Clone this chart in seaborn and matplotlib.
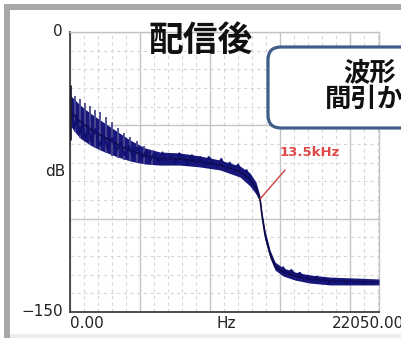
import pandas as pd
import matplotlib.pyplot as plt
import seaborn as sns
from matplotlib.patches import FancyBboxPatch, Rectangle
from matplotlib.ticker import MultipleLocator

# spectrum envelope (Hz, dB)
freq_hz = [0, 357, 714, 1427, 2141, 3211, 4282, 5352, 6422, 7850, 9277, 10704,
           12131, 12845, 13273, 13558, 13701, 13915, 14272, 14629, 15199, 16056,
           17126, 18553, 20337, 22050]
upper_db = [-33.8, -36.4, -39.1, -43.4, -47.1, -52.5, -57.9, -62.1, -64.3, -64.8,
            -66.4, -68.6, -71.8, -75.5, -80.4, -87.9, -96.4, -106.1, -116.8,
            -123.2, -126.4, -128.6, -130.2, -131.3, -131.8, -132.3]
lower_db = [-49.8, -53.6, -56.8, -60.5, -63.2, -66.4, -69.1, -70.7, -71.3, -71.3,
            -72.3, -73.9, -77.7, -82.5, -86.8, -91.1, -100.7, -111.4, -121.1,
            -127.5, -130.7, -132.9, -134.5, -135.5, -135.5, -135.5]

# jagged trace inside the band (Hz, dB)
trace_hz = [100, 300, 500, 700, 900, 1100, 1300, 1500, 1800, 2100, 2400, 2700, 3000,
            3300, 3600, 3900, 4200, 4500, 4800, 5100, 5400, 5700, 6000, 6300, 6600,
            6900, 7200, 7500, 7800, 8100, 8400, 8700, 9000, 9300, 9600, 9900, 10200,
            10500, 10800, 11100, 11400, 11700, 12000, 12300, 12600, 12900]
trace_db = [-40, -52, -44, -55, -47, -58, -50, -59, -52, -61, -55, -63, -57, -64, -59,
            -66, -61, -67, -62, -68, -64, -69, -65, -70, -64.5, -69, -66, -70.5, -65,
            -68, -71, -66, -70, -67, -71.5, -67, -69.5, -72, -68, -73, -70, -74.5,
            -71, -76, -74, -79]
tail_hz = [15200, 15500, 15800, 16100, 16400, 16700, 17000, 17300, 17600, 17900,
           18200, 18500, 18800, 19100, 19400, 19700, 20000, 20300, 20600, 20900,
           21200, 21500, 21800, 22050]
tail_db = [-126, -129.5, -127.5, -130.5, -129, -132, -130.5, -133, -131, -133.5,
           -132, -134.5, -132.5, -134, -133, -135, -133, -134.5, -133.5, -135,
           -133.5, -134.8, -133.8, -134.5]

# harmonic spikes at the low end
spike_hz = [0, 357, 714, 1070, 1427, 1784, 2141, 2569, 2997, 3425, 3853, 4282,
            4781, 5281, 5852]
spike_top = [-28.4, -34.3, -35.9, -38.0, -39.6, -41.8, -42.9, -45.5, -48.2, -51.4,
             -54.1, -56.3, -58.4, -61.1, -63.2]
spike_base = [-57.9, -53.6, -56.8, -58.9, -60.5, -62.1, -63.2, -64.8, -66.4,
              -67.5, -68.6, -69.1, -70.2, -70.7, -71.3]

df = pd.DataFrame({"freq": freq_hz, "upper": upper_db, "lower": lower_db})
df["mid"] = (df["upper"] + df["lower"]) / 2
trace = pd.DataFrame({"freq": trace_hz + tail_hz, "db": trace_db + tail_db,
                      "part": ["head"] * len(trace_hz) + ["tail"] * len(tail_hz)})

sns.set_style("white")
plt.rcParams["font.family"] = ["DejaVu Sans"]
cjk = ["Noto Sans CJK JP", "DejaVu Sans"]

fig = plt.figure(figsize=(4.01, 3.38), dpi=100)
ax = fig.add_axes([70 / 401, 26 / 338, 309 / 401, 280 / 338])

navy = "#17177c"
ax.fill_between(df["freq"], df["lower"], df["upper"], color=navy, lw=0, zorder=3)
sns.lineplot(data=df, x="freq", y="mid", color="#0a0a40", lw=1.1, ax=ax, zorder=4)
sns.lineplot(data=trace, x="freq", y="db", units="part", estimator=None,
             color="#101070", lw=1.4, ax=ax, zorder=4)
ax.vlines(spike_hz, spike_base, spike_top, color="#4a4a90", lw=1.3, zorder=3)
ax.vlines(spike_hz[0], spike_base[0], spike_top[0], color="#202030", lw=2, zorder=4)

ax.set_xlim(0, 22050)
ax.set_ylim(-150, 0)
ax.xaxis.set_major_locator(MultipleLocator(5000))
ax.xaxis.set_minor_locator(MultipleLocator(1000))
ax.yaxis.set_major_locator(MultipleLocator(50))
ax.yaxis.set_minor_locator(MultipleLocator(10))
ax.grid(which="major", color="#c4c4c4", lw=1)
ax.grid(which="minor", color="#d6d6d6", lw=0.8, ls=(0, (3, 3)))
ax.tick_params(which="both", length=0, labelleft=False, labelbottom=False)
ax.set_xlabel("")
ax.set_ylabel("")
for s in ["left", "bottom"]:
    ax.spines[s].set_color("#404040")
    ax.spines[s].set_linewidth(1.3)
for s in ["top", "right"]:
    ax.spines[s].set_color("#c4c4c4")
    ax.spines[s].set_linewidth(1)

# annotation line for the cutoff
ax.plot([13558, 15350], [-89.5, -73.9], color="#d04040", lw=1, zorder=5)

inch = fig.dpi_scale_trans


def px(x, y):
    return x / 100, (338 - y) / 100


fig.text(*px(63, 32), "0", ha="right", va="center", fontsize=11, color="#222222", transform=inch)
fig.text(*px(65, 172), "dB", ha="right", va="center", fontsize=11, color="#222222", transform=inch)
fig.text(*px(63, 311), "\u2212150", ha="right", va="center", fontsize=11, color="#222222", transform=inch)
fig.text(*px(70, 323), "0.00", ha="left", va="center", fontsize=11, color="#222222", transform=inch)
fig.text(*px(226, 323), "Hz", ha="center", va="center", fontsize=11, color="#222222", transform=inch)
fig.text(*px(404, 323), "22050.00", ha="right", va="center", fontsize=11, color="#222222", transform=inch)
fig.text(*px(280, 152), "13.5kHz", ha="left", va="center", fontsize=9.5, fontweight="bold",
         color="#e04848", transform=inch)

fig.text(*px(201, 40), "配信後", ha="center", va="center", fontsize=25, fontweight="bold",
         family=cjk, color="#111111", transform=inch)

box = FancyBboxPatch(px(268, 128), 1.6, 0.81, boxstyle="round,pad=0,rounding_size=0.13",
                     transform=inch, facecolor="white", edgecolor="#3f5f8a", lw=2.3, zorder=10)
fig.add_artist(box)
fig.text(*px(343, 73), "波形", ha="left", va="center", fontsize=19, fontweight="bold",
         family=cjk, color="#111111", transform=inch, zorder=11)
fig.text(*px(325, 99), "間引か", ha="left", va="center", fontsize=19, fontweight="bold",
         family=cjk, color="#111111", transform=inch, zorder=11)

# window frame
fig.add_artist(Rectangle(px(4, 10), 4.0, 0.06, transform=inch, color="#a8a8a8", lw=0))
fig.add_artist(Rectangle(px(4, 338), 0.06, 3.34, transform=inch, color="#a8a8a8", lw=0))
fig.add_artist(Rectangle(px(10, 338), 4.0, 0.04, transform=inch, color="#ededed", lw=0))

fig.savefig("out.png", dpi=100)
